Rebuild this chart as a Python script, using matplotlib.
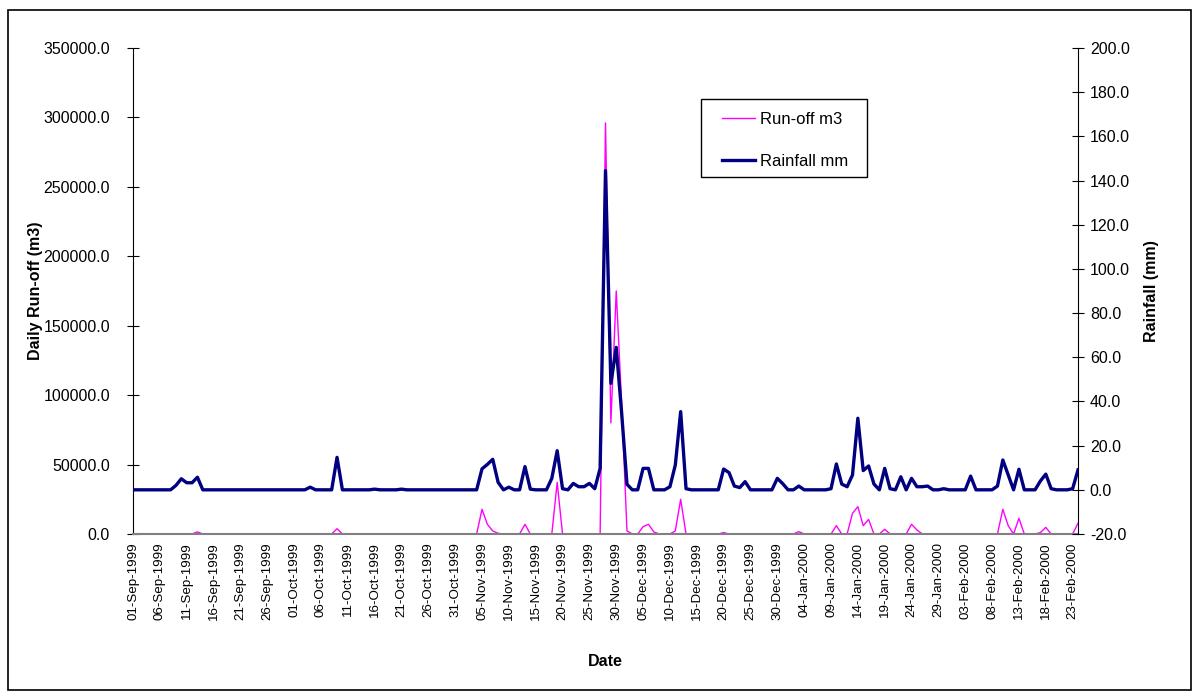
import pandas as pd
import matplotlib
matplotlib.use('Agg')
import matplotlib.pyplot as plt
from matplotlib.patches import Rectangle
from matplotlib.ticker import FormatStrFormatter

plt.rcParams['font.family'] = ['Liberation Sans', 'DejaVu Sans']

# daily rainfall (mm), one list per month
rain_sep = [0, 0, 0, 0, 0, 0, 0, 0, 2.0, 5.0, 3.2, 3.2, 5.7, 0, 0, 0, 0, 0, 0, 0,
            0, 0, 0, 0, 0, 0, 0, 0, 0, 0]
rain_oct = [0, 0, 0, 1.2, 0, 0, 0, 0, 14.7, 0, 0, 0, 0, 0, 0, 0.3, 0, 0, 0, 0,
            0.3, 0, 0, 0, 0, 0, 0, 0, 0, 0, 0]
rain_nov = [0, 0, 0, 0, 9.5, 11.5, 13.8, 3.4, 0, 1.2, 0, 0, 10.5, 0.3, 0, 0, 0, 5.2, 17.7, 0.5,
            0, 2.9, 1.4, 1.4, 2.9, 0.5, 9.7, 144.5, 48.2, 64.5]
rain_dec = [35.0, 2.5, 0, 0, 9.7, 9.7, 0, 0, 0, 1.4, 11.2, 35.4, 0.5, 0, 0, 0, 0, 0, 0, 9.4,
            7.8, 1.7, 1.0, 3.7, 0, 0, 0, 0, 0, 5.2, 2.8]
rain_jan = [0, 0, 1.7, 0, 0, 0, 0, 0, 0.5, 11.7, 2.6, 1.4, 6.7, 32.4, 8.7, 10.8, 2.6, 0, 9.7, 0.5,
            0, 5.9, 0, 5.2, 1.4, 1.4, 1.7, 0, 0, 0.5, 0]
rain_feb = [0, 0, 0, 6.2, 0, 0, 0, 0, 1.7, 13.5, 6.7, 0, 9.3, 0, 0, 0, 4.0, 7.1, 0.5, 0,
            0, 0, 0.5, 9.0]

# daily run-off (m3)
runoff_sep = [0] * 12 + [1500] + [0] * 17
runoff_oct = [0, 0, 0, 0, 0, 0, 0, 0, 3800, 0, 0, 0, 0, 0, 0, 0, 0, 0, 0, 0,
              0, 0, 0, 0, 0, 0, 0, 0, 0, 0, 0]
runoff_nov = [0, 0, 0, 0, 17800, 7000, 2200, 500, 0, 0, 0, 0, 7000, 0, 0, 0, 0, 0, 37200, 0,
              0, 0, 0, 0, 0, 0, 0, 296000, 80000, 175000]
runoff_dec = [95000, 2200, 0, 0, 5300, 7000, 1500, 0, 0, 0, 2200, 25000, 0, 0, 0, 0, 0, 0, 0, 1000,
              0, 0, 0, 0, 0, 0, 0, 0, 0, 0, 0]
runoff_jan = [0, 0, 1700, 0, 0, 0, 0, 0, 0, 6000, 0, 0, 14900, 19700, 6000, 10500, 0, 0, 3400, 0,
              0, 0, 0, 7000, 2900, 0, 0, 0, 0, 0, 0]
runoff_feb = [0, 0, 0, 0, 0, 0, 0, 0, 0, 17800, 6000, 0, 11300, 0, 0, 0, 1000, 4800, 0, 0,
              0, 0, 0, 7700]

rainfall = rain_sep + rain_oct + rain_nov + rain_dec + rain_jan + rain_feb
runoff = runoff_sep + runoff_oct + runoff_nov + runoff_dec + runoff_jan + runoff_feb
dates = pd.date_range('1999-09-01', periods=len(rainfall), freq='D')
x = list(range(len(dates)))

W, H = 1200, 693
fig = plt.figure(figsize=(W / 100, H / 100), dpi=100)
# outer chart border and legend box
fig.patches.append(Rectangle((8 / W, 3 / H), 1183 / W, 680 / H, transform=fig.transFigure,
                             fill=False, edgecolor='black', linewidth=1.2))
fig.patches.append(Rectangle((701 / W, 1 - 177 / H), 166 / W, 78 / H, transform=fig.transFigure,
                             fill=False, edgecolor='black', linewidth=1.0, zorder=5))

ax = fig.add_axes([133 / W, 159 / H, 945 / W, 486 / H])
ax2 = ax.twinx()

l1, = ax.plot(x, runoff, color='#FF00FF', linewidth=1.0, label='Run-off m3')
l2, = ax2.plot(x, rainfall, color='#000080', linewidth=2.4, label='Rainfall mm')

ax.set_xlim(0, len(x) - 1)
ax.set_ylim(0, 350000)
ax.set_yticks(range(0, 350001, 50000))
ax2.set_ylim(-20, 200)
ax2.set_yticks(range(-20, 201, 20))
ax.yaxis.set_major_formatter(FormatStrFormatter('%.1f'))
ax2.yaxis.set_major_formatter(FormatStrFormatter('%.1f'))

ax.set_xticks(x[::5])
ax.set_xticklabels([d.strftime('%d-%b-%Y') for d in dates[::5]], rotation=90, fontsize=9.6)
ax.tick_params(axis='x', length=0, pad=6)
ax.tick_params(axis='y', direction='inout', length=9, labelsize=11.5, pad=12)
ax2.tick_params(axis='y', direction='inout', length=9, labelsize=11.5, pad=4)

for a in (ax, ax2):
    a.spines['top'].set_visible(False)
ax.spines['right'].set_visible(False)
ax.spines['bottom'].set_color('#808080')
ax.spines['bottom'].set_linewidth(1.5)
ax2.spines['bottom'].set_visible(False)
ax2.spines['left'].set_visible(False)

ax.set_xlabel('Date', fontsize=11.5, fontweight='bold', labelpad=24)
ax.set_ylabel('Daily Run-off (m3)', fontsize=11.5, fontweight='bold', labelpad=0)
ax2.set_ylabel('Rainfall (mm)', fontsize=11.5, fontweight='bold', labelpad=10)

fig.legend(handles=[l1, l2], loc='upper left', bbox_to_anchor=(722 / W, 1 - 112 / H),
           fontsize=12, frameon=False, borderaxespad=0, borderpad=0,
           handlelength=2.0, labelspacing=1.6, handletextpad=0.3)

fig.savefig('out.png', dpi=100)
